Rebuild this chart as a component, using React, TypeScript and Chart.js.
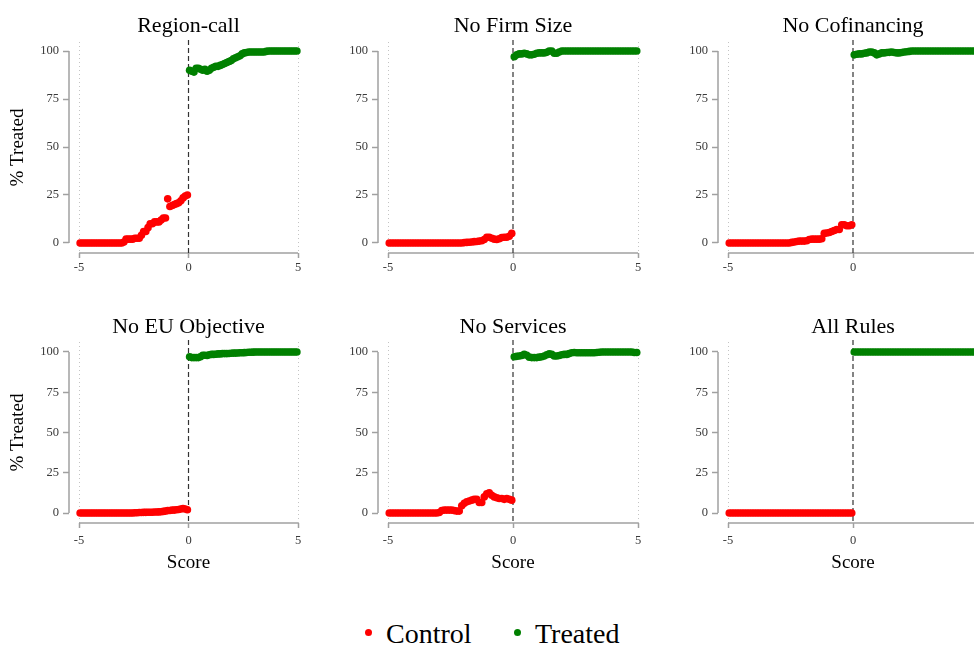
import React, { useEffect, useRef } from "react";
import { Chart, registerables } from "chart.js";

Chart.register(...registerables);

// ---------- data ----------
const CONTROL_X = [
  -4.95, -4.85, -4.75, -4.65, -4.55, -4.45, -4.35, -4.25, -4.15, -4.05,
  -3.95, -3.85, -3.75, -3.65, -3.55, -3.45, -3.35, -3.25, -3.15, -3.05,
  -2.95, -2.85, -2.75, -2.65, -2.55, -2.45, -2.35, -2.25, -2.15, -2.05,
  -1.95, -1.85, -1.75, -1.65, -1.55, -1.45, -1.35, -1.25, -1.15, -1.05,
  -0.95, -0.85, -0.75, -0.65, -0.55, -0.45, -0.35, -0.25, -0.15, -0.05,
];
const TREATED_X = [
  0.05, 0.15, 0.25, 0.35, 0.45, 0.55, 0.65, 0.75, 0.85, 0.95,
  1.05, 1.15, 1.25, 1.35, 1.45, 1.55, 1.65, 1.75, 1.85, 1.95,
  2.05, 2.15, 2.25, 2.35, 2.45, 2.55, 2.65, 2.75, 2.85, 2.95,
  3.05, 3.15, 3.25, 3.35, 3.45, 3.55, 3.65, 3.75, 3.85, 3.95,
  4.05, 4.15, 4.25, 4.35, 4.45, 4.55, 4.65, 4.75, 4.85, 4.95,
];
const X_TICKS = [-5, 0, 5];
const Y_TICKS = [0, 25, 50, 75, 100];
const CUTOFF = 0;
const SERIES_LABELS = ["Control", "Treated"];
const TITLES = ["Region-call", "No Firm Size", "No Cofinancing", "No EU Objective", "No Services", "All Rules"];
const X_TITLE = "Score";
const Y_TITLE = "% Treated";

const REGION_CALL_CONTROL = [
  0, 0, 0, 0, 0, 0, 0, 0, 0, 0,
  0, 0, 0, 0, 0, 0, 0, 0, 0, 0,
  0.5, 2, 2, 2, 2, 2.5, 2.5, 2.5, 4, 6,
  6, 8, 10, 10, 11, 11, 11, 12, 13, 13,
  23, 19, 19.5, 20, 20.5, 21, 22, 23.5, 24.5, 25,
];
const REGION_CALL_TREATED = [
  90, 89.5, 89, 91, 91, 90.5, 90, 90.5, 89.5, 90,
  91, 91.5, 92, 92, 92.5, 93, 93.5, 94, 94.5, 95,
  96, 96.5, 97, 97.5, 98.5, 99, 99.2, 99.5, 99.5, 99.5,
  99.5, 99.5, 99.5, 99.5, 99.5, 99.8, 100, 100, 100, 100,
  100, 100, 100, 100, 100, 100, 100, 100, 100, 100,
];
const FIRM_SIZE_CONTROL = [
  0, 0, 0, 0, 0, 0, 0, 0, 0, 0,
  0, 0, 0, 0, 0, 0, 0, 0, 0, 0,
  0, 0, 0, 0, 0, 0, 0, 0, 0, 0,
  0.2, 0.3, 0.4, 0.5, 0.7, 0.8, 1, 1.2, 1.8, 3,
  3, 2.5, 2, 1.8, 2.2, 2.8, 3, 3, 3.5, 5,
];
const FIRM_SIZE_TREATED = [
  97, 98, 98.5, 98.5, 98.8, 98.5, 98, 98, 98.3, 98.8,
  99, 99, 99, 99.3, 100, 100, 98.8, 98.8, 99.5, 100,
  100, 100, 100, 100, 100, 100, 100, 100, 100, 100,
  100, 100, 100, 100, 100, 100, 100, 100, 100, 100,
  100, 100, 100, 100, 100, 100, 100, 100, 100, 100,
];
const COFINANCING_CONTROL = [
  0, 0, 0, 0, 0, 0, 0, 0, 0, 0,
  0, 0, 0, 0, 0, 0, 0, 0, 0, 0,
  0, 0, 0, 0, 0, 0.3, 0.5, 0.8, 1, 1,
  1, 1.2, 1.8, 2, 2, 2, 2, 2.2, 5, 5.2,
  5.5, 6, 6.5, 7, 7, 9.5, 9.5, 9, 9, 9.5,
];
const COFINANCING_TREATED = [
  98, 98.3, 98.5, 98.5, 98.8, 99, 99.5, 99.5, 99, 98,
  98.5, 99, 99, 99.2, 99.3, 99.5, 99.2, 99, 99, 99.2,
  99.5, 99.6, 99.8, 100, 100, 100, 100, 100, 100, 100,
  100, 100, 100, 100, 100, 100, 100, 100, 100, 100,
  100, 100, 100, 100, 100, 100, 100, 100, 100, 100,
];
const EU_OBJECTIVE_CONTROL = [
  0, 0, 0, 0, 0, 0, 0, 0, 0, 0,
  0, 0, 0, 0, 0, 0, 0, 0, 0, 0,
  0, 0, 0, 0, 0, 0.2, 0.2, 0.3, 0.3, 0.4,
  0.4, 0.5, 0.5, 0.5, 0.6, 0.6, 0.7, 0.8, 1, 1.2,
  1.5, 1.6, 1.8, 1.8, 2, 2.2, 2.5, 2.8, 2.5, 2,
];
const EU_OBJECTIVE_TREATED = [
  97, 96.5, 96.5, 96.5, 96.5, 97, 98, 98, 97.8, 98.3,
  98.5, 98.5, 98.6, 98.8, 98.8, 99, 99, 99, 99.1, 99.2,
  99.3, 99.3, 99.4, 99.5, 99.5, 99.6, 99.7, 99.8, 99.8, 99.9,
  100, 100, 100, 100, 100, 100, 100, 100, 100, 100,
  100, 100, 100, 100, 100, 100, 100, 100, 100, 100,
];
const SERVICES_CONTROL = [
  0, 0, 0, 0, 0, 0, 0, 0, 0, 0,
  0, 0, 0, 0, 0, 0, 0, 0, 0, 0,
  0.3, 1.5, 1.8, 1.8, 1.8, 1.8, 1.5, 1.2, 1.2, 4.5,
  6, 7, 7.5, 8, 8.5, 8.5, 6.5, 6.5, 10, 12,
  12.5, 11, 10, 9.5, 9, 9, 8.5, 9, 8.5, 8,
];
const SERVICES_TREATED = [
  97, 97.3, 97.5, 97.8, 98.5, 98, 96.8, 96.5, 96.5, 96.5,
  96.8, 97, 97.5, 98.3, 98.8, 98.5, 97.5, 97.5, 97.8, 98.3,
  98.5, 98.5, 99, 99.5, 99.7, 99.5, 99.5, 99.5, 99.5, 99.5,
  99.5, 99.5, 99.5, 99.7, 99.8, 100, 100, 100, 100, 100,
  100, 100, 100, 100, 100, 100, 100, 100, 99.7, 99.7,
];
const ALL_RULES_CONTROL = [
  0, 0, 0, 0, 0, 0, 0, 0, 0, 0,
  0, 0, 0, 0, 0, 0, 0, 0, 0, 0,
  0, 0, 0, 0, 0, 0, 0, 0, 0, 0,
  0, 0, 0, 0, 0, 0, 0, 0, 0, 0,
  0, 0, 0, 0, 0, 0, 0, 0, 0, 0,
];
const ALL_RULES_TREATED = [
  100, 100, 100, 100, 100, 100, 100, 100, 100, 100,
  100, 100, 100, 100, 100, 100, 100, 100, 100, 100,
  100, 100, 100, 100, 100, 100, 100, 100, 100, 100,
  100, 100, 100, 100, 100, 100, 100, 100, 100, 100,
  100, 100, 100, 100, 100, 100, 100, 100, 100, 100,
];

// ---------- style ----------
const SERIF = "'Liberation Serif', 'Times New Roman', Times, serif";
const RED = "rgb(255,0,0)";
const GREEN = "rgb(0,128,0)";
const AXIS_COLOR = "#a0a0a0";
const TICK_TEXT = "#3a3a3a";
const GRID_COLOR = "#c4c4c4";
const CUTOFF_COLOR = "#333333";

const framePlugin = {
  id: "frame",
  beforeDatasetsDraw(chart: any) {
    const { ctx, chartArea, scales } = chart;
    const x = scales.x;
    const y = scales.y;
    ctx.save();
    ctx.strokeStyle = AXIS_COLOR;
    ctx.lineWidth = 1.5;
    ctx.beginPath();
    ctx.moveTo(chartArea.left, y.getPixelForValue(Y_TICKS[0]));
    ctx.lineTo(chartArea.left, y.getPixelForValue(Y_TICKS[Y_TICKS.length - 1]));
    ctx.stroke();
    ctx.beginPath();
    ctx.moveTo(x.getPixelForValue(X_TICKS[0]), chartArea.bottom);
    ctx.lineTo(x.getPixelForValue(X_TICKS[X_TICKS.length - 1]), chartArea.bottom);
    ctx.stroke();
    ctx.strokeStyle = CUTOFF_COLOR;
    ctx.lineWidth = 1.2;
    ctx.setLineDash([5, 3]);
    const x0 = x.getPixelForValue(CUTOFF);
    ctx.beginPath();
    ctx.moveTo(x0, chartArea.top - 2);
    ctx.lineTo(x0, chartArea.bottom);
    ctx.stroke();
    ctx.restore();
  },
  afterDraw(chart: any, _args: any, opts: any) {
    const { ctx, scales } = chart;
    const x = scales.x;
    const cx = (x.getPixelForValue(X_TICKS[0]) + x.getPixelForValue(X_TICKS[X_TICKS.length - 1])) / 2;
    ctx.save();
    ctx.fillStyle = "#000";
    ctx.textAlign = "center";
    ctx.textBaseline = "alphabetic";
    ctx.font = `22px ${SERIF}`;
    ctx.fillText(opts.title, cx, opts.baseline);
    if (opts.xTitle) {
      ctx.font = `19px ${SERIF}`;
      ctx.fillText(X_TITLE, cx, opts.xTitleBaseline);
    }
    ctx.restore();
  },
};

type Spec = {
  title: string;
  control: number[];
  treated: number[];
  left: number;
  top: number;
  width: number;
  height: number;
  yAxisWidth: number;
  xAxisHeight: number;
  padRight: number;
  padTop: number;
  xMin: number;
  yMin: number;
  yMax: number;
  yTitle: boolean;
  xTitle: boolean;
  titleBaseline: number;
  xTitleBaseline: number;
  xTickPad: number;
};

function Panel({ spec }: { spec: Spec }) {
  const ref = useRef<HTMLCanvasElement | null>(null);
  useEffect(() => {
    if (!ref.current) return;
    const chart = new Chart(ref.current, {
      type: "scatter",
      data: {
        datasets: [
          {
            label: SERIES_LABELS[0],
            data: CONTROL_X.map((x, i) => ({ x, y: spec.control[i] })),
            backgroundColor: RED,
            borderColor: RED,
            pointRadius: 3.8,
            pointBorderWidth: 0,
            clip: false,
          },
          {
            label: SERIES_LABELS[1],
            data: TREATED_X.map((x, i) => ({ x, y: spec.treated[i] })),
            backgroundColor: GREEN,
            borderColor: GREEN,
            pointRadius: 3.8,
            pointBorderWidth: 0,
            clip: false,
          },
        ],
      } as any,
      options: {
        animation: false,
        responsive: false,
        maintainAspectRatio: false,
        events: [],
        layout: { padding: { top: spec.padTop, right: spec.padRight, left: 0, bottom: 0 } },
        plugins: {
          legend: { display: false },
          tooltip: { enabled: false },
          title: { display: false },
          frame: {
            title: spec.title,
            baseline: spec.titleBaseline,
            xTitle: spec.xTitle,
            xTitleBaseline: spec.xTitleBaseline,
          },
        } as any,
        scales: {
          x: {
            type: "linear",
            min: spec.xMin,
            max: X_TICKS[X_TICKS.length - 1],
            afterBuildTicks: (s: any) => {
              s.ticks = X_TICKS.map((v) => ({ value: v }));
            },
            afterFit: (s: any) => {
              s.height = spec.xAxisHeight;
            },
            ticks: {
              color: TICK_TEXT,
              font: { family: SERIF, size: 12.5 },
              padding: spec.xTickPad,
              maxRotation: 0,
              callback: (v: any) => String(v),
            },
            grid: {
              display: true,
              drawOnChartArea: true,
              drawTicks: true,
              color: (c: any) => (c.tick && c.tick.value === CUTOFF ? "rgba(0,0,0,0)" : GRID_COLOR),
              lineWidth: 1,
              tickLength: 5,
              tickColor: AXIS_COLOR,
              tickWidth: 1.5,
              tickBorderDash: [],
            },
            border: { display: false, dash: [1, 3] },
            title: { display: false },
          },
          y: {
            type: "linear",
            min: spec.yMin,
            max: spec.yMax,
            afterBuildTicks: (s: any) => {
              s.ticks = Y_TICKS.map((v) => ({ value: v }));
            },
            afterFit: (s: any) => {
              s.width = spec.yAxisWidth;
            },
            ticks: {
              color: TICK_TEXT,
              font: { family: SERIF, size: 12.5 },
              padding: 4,
              callback: (v: any) => String(v),
            },
            grid: {
              display: true,
              drawOnChartArea: false,
              drawTicks: true,
              tickLength: 6,
              tickColor: AXIS_COLOR,
              tickWidth: 1.5,
            },
            border: { display: false },
            title: {
              display: spec.yTitle,
              text: Y_TITLE,
              color: "#000",
              font: { family: SERIF, size: 19, lineHeight: 1.2 },
              padding: { top: 7, bottom: 0 },
            },
          },
        },
      } as any,
      plugins: [framePlugin as any],
    });
    return () => chart.destroy();
  }, [spec]);
  return (
    <canvas
      ref={ref}
      width={spec.width}
      height={spec.height}
      style={{ position: "absolute", left: spec.left, top: spec.top, width: spec.width, height: spec.height }}
    />
  );
}

const CONTROLS = [REGION_CALL_CONTROL, FIRM_SIZE_CONTROL, COFINANCING_CONTROL, EU_OBJECTIVE_CONTROL, SERVICES_CONTROL, ALL_RULES_CONTROL];
const TREATEDS = [REGION_CALL_TREATED, FIRM_SIZE_TREATED, COFINANCING_TREATED, EU_OBJECTIVE_TREATED, SERVICES_TREATED, ALL_RULES_TREATED];

const COLS = [
  { left: 0, width: 312, yAxisWidth: 69, padRight: 14, xMin: -5.457, yTitle: true },
  { left: 320, width: 330, yAxisWidth: 58, padRight: 12, xMin: -5.4, yTitle: false },
  { left: 660, width: 330, yAxisWidth: 58, padRight: 12, xMin: -5.4, yTitle: false },
];
const ROWS = [
  { top: 0, height: 290, padTop: 42, xAxisHeight: 37, yMin: -5.21, yMax: 104.69, xTitle: false, titleBaseline: 32, xTitleBaseline: 0, xTickPad: 2.5 },
  { top: 300, height: 300, padTop: 42, xAxisHeight: 77, yMin: -6.2, yMax: 106.2, xTitle: true, titleBaseline: 33, xTitleBaseline: 268, xTickPad: 5 },
];

const SPECS: Spec[] = [];
for (let r = 0; r < 2; r++) {
  for (let c = 0; c < 3; c++) {
    const k = r * 3 + c;
    SPECS.push({ ...COLS[c], ...ROWS[r], title: TITLES[k], control: CONTROLS[k], treated: TREATEDS[k] } as Spec);
  }
}

export default function App() {
  return (
    <div
      style={{
        position: "fixed",
        left: 0,
        top: 0,
        width: 974,
        height: 646,
        overflow: "hidden",
        background: "#fff",
      }}
    >
      {SPECS.map((s, i) => (
        <Panel key={i} spec={s} />
      ))}
      <div style={{ position: "absolute", left: 364.5, top: 628.5, width: 7, height: 7, borderRadius: "50%", background: RED }} />
      <div style={{ position: "absolute", left: 386, top: 620, fontFamily: SERIF, fontSize: 28, lineHeight: "28px", color: "#000", whiteSpace: "nowrap" }}>
        {SERIES_LABELS[0]}
      </div>
      <div style={{ position: "absolute", left: 513.5, top: 628.5, width: 7, height: 7, borderRadius: "50%", background: GREEN }} />
      <div style={{ position: "absolute", left: 535, top: 620, fontFamily: SERIF, fontSize: 28, lineHeight: "28px", color: "#000", whiteSpace: "nowrap" }}>
        {SERIES_LABELS[1]}
      </div>
    </div>
  );
}
